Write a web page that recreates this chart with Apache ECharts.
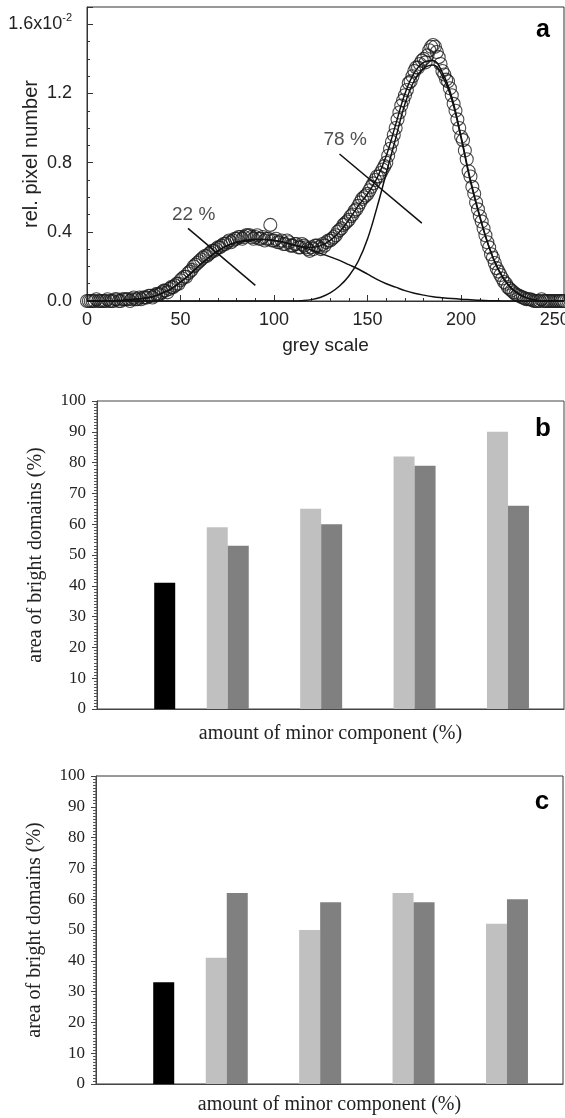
<!DOCTYPE html>
<html lang="en" style="height: 100%">
<head>
  <meta charset="utf-8">
  <title>Grey scale histogram and bright domain areas</title>
</head>
<body style="height: 100%; margin: 0; background: #fff">
  <div id="container" style="width: 565px; height: 1118px"></div>

  <script type="text/javascript" src="https://cdn.jsdelivr.net/npm/echarts@6.0.0/dist/echarts.min.js"></script>

  <script type="text/javascript">
    // ---- panel a: histogram (values in units of 1e-2) ----
    var greyLevels = [
      0, 2, 4, 6, 8, 10, 12, 14, 16, 18, 20, 22, 24, 26, 28, 30,
      32, 34, 36, 38, 40, 42, 44, 46, 48, 50, 52, 54, 56, 58, 60, 62,
      64, 66, 68, 70, 72, 74, 76, 78, 80, 82, 84, 86, 88, 90, 92, 94,
      96, 98, 100, 102, 104, 106, 108, 110, 112, 114, 116, 118, 120, 122, 124, 126,
      128, 130, 132, 134, 136, 138, 140, 142, 144, 146, 148, 150, 152, 154, 156, 158,
      160, 162, 164, 166, 168, 170, 172, 174, 176, 178, 180, 182, 184, 186, 188, 190,
      192, 194, 196, 198, 200, 202, 204, 206, 208, 210, 212, 214, 216, 218, 220, 222,
      224, 226, 228, 230, 232, 234, 236, 238, 240, 242, 244, 246, 248, 250, 252, 254
    ];
    var pixelCounts = [
      0.00, 0.00, 0.00, 0.00, 0.00, 0.00, 0.00, 0.00, 0.01, 0.00, 0.01, 0.01, 0.01, 0.01, 0.02, 0.02,
      0.02, 0.03, 0.03, 0.04, 0.05, 0.06, 0.07, 0.08, 0.10, 0.12, 0.14, 0.16, 0.18, 0.21, 0.23, 0.25,
      0.26, 0.28, 0.29, 0.31, 0.32, 0.33, 0.35, 0.35, 0.36, 0.37, 0.37, 0.38, 0.37, 0.37, 0.36, 0.37,
      0.36, 0.44, 0.35, 0.34, 0.35, 0.33, 0.34, 0.32, 0.33, 0.31, 0.32, 0.30, 0.31, 0.32, 0.31, 0.33,
      0.34, 0.35, 0.37, 0.40, 0.42, 0.45, 0.47, 0.50, 0.53, 0.57, 0.60, 0.62, 0.66, 0.70, 0.72, 0.76,
      0.80, 0.88, 0.96, 1.05, 1.13, 1.19, 1.26, 1.30, 1.35, 1.37, 1.40, 1.42, 1.47, 1.47, 1.41, 1.33,
      1.28, 1.23, 1.14, 1.05, 0.95, 0.87, 0.75, 0.66, 0.57, 0.49, 0.42, 0.34, 0.27, 0.22, 0.17, 0.13,
      0.10, 0.07, 0.05, 0.035, 0.025, 0.015, 0.01, 0.005, 0.00, 0.00, 0.00, 0.00, 0.00, 0.00, 0.00, 0.00
    ];
    var greyLevelsOdd = [
      1, 3, 5, 7, 9, 11, 13, 15, 17, 19, 21, 23, 25, 27, 29, 31,
      33, 35, 37, 39, 41, 43, 45, 47, 49, 51, 53, 55, 57, 59, 61, 63,
      65, 67, 69, 71, 73, 75, 77, 79, 81, 83, 85, 87, 89, 91, 93, 95,
      97, 99, 101, 103, 105, 107, 109, 111, 113, 115, 117, 119, 121, 123, 125, 127,
      129, 131, 133, 135, 137, 139, 141, 143, 145, 147, 149, 151, 153, 155, 157, 159,
      161, 163, 165, 167, 169, 171, 173, 175, 177, 179, 181, 183, 185, 187, 189, 191,
      193, 195, 197, 199, 201, 203, 205, 207, 209, 211, 213, 215, 217, 219, 221, 223,
      225, 227, 229, 231, 233, 235, 237, 239, 241, 243, 245, 247, 249, 251, 253, 255
    ];
    var pixelCountsOdd = [
      0.00, 0.00, 0.01, 0.00, 0.00, 0.01, 0.00, 0.01, 0.00, 0.01, 0.01, 0.00, 0.02, 0.01, 0.01, 0.02,
      0.03, 0.02, 0.04, 0.04, 0.06, 0.05, 0.08, 0.09, 0.10, 0.13, 0.14, 0.17, 0.20, 0.22, 0.24, 0.26,
      0.27, 0.29, 0.30, 0.31, 0.33, 0.34, 0.34, 0.36, 0.37, 0.36, 0.38, 0.38, 0.36, 0.38, 0.36, 0.35,
      0.36, 0.35, 0.36, 0.34, 0.33, 0.35, 0.32, 0.33, 0.31, 0.33, 0.31, 0.29, 0.30, 0.32, 0.30, 0.32,
      0.35, 0.36, 0.38, 0.41, 0.44, 0.46, 0.49, 0.52, 0.55, 0.59, 0.61, 0.64, 0.68, 0.72, 0.74, 0.78,
      0.84, 0.92, 1.00, 1.09, 1.16, 1.22, 1.27, 1.33, 1.35, 1.39, 1.38, 1.45, 1.48, 1.44, 1.37, 1.31,
      1.27, 1.19, 1.10, 1.00, 0.93, 0.82, 0.72, 0.62, 0.53, 0.46, 0.38, 0.31, 0.25, 0.19, 0.15, 0.11,
      0.08, 0.06, 0.04, 0.03, 0.02, 0.01, 0.01, 0.00, 0.00, 0.01, 0.00, 0.00, 0.00, 0.00, 0.00, 0.00
    ];

    // fitted curves
    var fitLevels = [
      0, 5, 10, 15, 20, 25, 30, 35, 40, 45, 50, 55, 60, 65, 70, 75, 80, 85, 90, 95,
      100, 105, 110, 115, 120, 125, 130, 135, 140, 145, 150, 155, 160, 165, 170, 175,
      180, 185, 190, 195, 200, 205, 210, 215, 220, 225, 230, 235, 240, 245, 250, 255
    ];
    var fitTotal = [
      0, 0, 0, 0.002, 0.005, 0.01, 0.015, 0.025, 0.045, 0.07, 0.11, 0.155, 0.205, 0.25, 0.29, 0.32, 0.34, 0.35, 0.355, 0.355,
      0.35, 0.34, 0.325, 0.315, 0.31, 0.32, 0.35, 0.40, 0.47, 0.55, 0.62, 0.71, 0.84, 1.02, 1.20, 1.32,
      1.38, 1.39, 1.32, 1.18, 0.95, 0.70, 0.49, 0.31, 0.18, 0.095, 0.045, 0.018, 0.005, 0, 0, 0
    ];
    var fitMinor = [
      0, 0, 0, 0.002, 0.005, 0.01, 0.015, 0.025, 0.045, 0.07, 0.11, 0.155, 0.205, 0.25, 0.29, 0.32, 0.34, 0.35, 0.355, 0.355,
      0.35, 0.34, 0.325, 0.31, 0.295, 0.275, 0.255, 0.235, 0.21, 0.185, 0.155, 0.125, 0.10, 0.08, 0.06, 0.045,
      0.034, 0.025, 0.019, 0.014, 0.01, 0.007, 0.004, 0.002, 0.001, 0, 0, 0, 0, 0, 0, 0
    ];
    var fitMajor = [
      0, 0, 0, 0, 0, 0, 0, 0, 0, 0, 0, 0, 0, 0, 0, 0, 0, 0, 0, 0,
      0, 0, 0, 0.002, 0.008, 0.022, 0.047, 0.087, 0.145, 0.23, 0.36, 0.54, 0.74, 0.94, 1.14, 1.275,
      1.345, 1.365, 1.30, 1.165, 0.94, 0.69, 0.485, 0.31, 0.18, 0.095, 0.045, 0.018, 0.005, 0, 0, 0
    ];

    // annotations: text, label point, pointer start, pointer end
    var notes = ['22 %', '78 %'];
    var noteAt = [[57, 0.50], [138, 0.935]];
    var pointerFrom = [[54, 0.42], [135, 0.85]];
    var pointerTo = [[90, 0.09], [179, 0.45]];

    // ---- panels b and c: area of bright domains (%) ----
    var groupX = [28, 48, 68, 88];
    var refX = [14.5];
    var refB = [41];
    var lightB = [59, 65, 82, 90];
    var darkB = [53, 60, 79, 66];
    var refC = [33];
    var lightC = [41, 50, 62, 52];
    var darkC = [62, 59, 59, 60];

    var SANS = 'Liberation Sans, Arial, sans-serif';
    var SERIF = 'Liberation Serif, Times New Roman, serif';

    function pairs(xs, ys) {
      return xs.map(function (x, i) { return [x, ys[i]]; });
    }

    function barYAxis(gridIndex) {
      return {
        gridIndex: gridIndex,
        type: 'value',
        min: 0,
        max: 100,
        interval: 10,
        name: 'area of bright domains (%)',
        nameLocation: 'middle',
        nameGap: 51,
        nameMoveOverlap: false,
        nameTextStyle: { fontFamily: SERIF, fontSize: 20, color: '#222' },
        axisLine: { show: true, lineStyle: { color: '#444', width: 1 } },
        axisTick: { show: true, inside: false, length: 5, lineStyle: { color: '#444' } },
        minorTick: { show: true, splitNumber: 10, length: 3, lineStyle: { color: '#555' } },
        axisLabel: { fontFamily: SERIF, fontSize: 17, color: '#222', margin: 11 },
        splitLine: { show: false }
      };
    }

    function barXAxis(gridIndex, nameGap) {
      return {
        gridIndex: gridIndex,
        type: 'value',
        min: 0,
        max: 100,
        name: 'amount of minor component (%)',
        nameLocation: 'middle',
        nameGap: nameGap,
        nameMoveOverlap: false,
        nameTextStyle: { fontFamily: SERIF, fontSize: 20, color: '#222' },
        axisLine: { show: true, lineStyle: { color: '#444', width: 1 } },
        axisTick: { show: false },
        axisLabel: { show: false },
        splitLine: { show: false }
      };
    }

    function hiddenXAxis(gridIndex) {
      return { gridIndex: gridIndex, type: 'value', min: 0, max: 100, show: false };
    }

    function bars(xIdx, yIdx, xs, ys, color) {
      return {
        type: 'bar',
        xAxisIndex: xIdx,
        yAxisIndex: yIdx,
        barWidth: 21,
        barGap: 0,
        itemStyle: { color: color },
        silent: true,
        data: pairs(xs, ys)
      };
    }

    function curve(ys) {
      return {
        type: 'line',
        xAxisIndex: 0,
        yAxisIndex: 0,
        smooth: 0.4,
        showSymbol: false,
        symbol: 'none',
        lineStyle: { color: '#111', width: 1.5 },
        z: 3,
        data: pairs(fitLevels, ys)
      };
    }

    function pointer(i) {
      return {
        type: 'line',
        xAxisIndex: 0,
        yAxisIndex: 0,
        symbol: 'none',
        lineStyle: { color: '#111', width: 1.5 },
        data: [pointerFrom[i], pointerTo[i]]
      };
    }

    var dom = document.getElementById('container');
    var myChart = echarts.init(dom, null, { renderer: 'canvas' });

    var gridBase = { show: true, borderWidth: 1, containLabel: false, outerBoundsMode: 'none' };

    var option = {
      backgroundColor: '#fff',
      animation: false,
      grid: [
        Object.assign({ left: 87, right: 1, top: 7, height: 294, borderColor: '#333' }, gridBase),
        Object.assign({ left: 97, right: 1, top: 401, height: 308, borderColor: '#444' }, gridBase),
        Object.assign({ left: 96, right: 2, top: 776, height: 308, borderColor: '#333' }, gridBase)
      ],
      xAxis: [
        {
          gridIndex: 0,
          type: 'value',
          min: 0,
          max: 255,
          interval: 50,
          name: 'grey scale',
          nameLocation: 'middle',
          nameGap: 35,
          nameMoveOverlap: false,
          nameTextStyle: { fontFamily: SANS, fontSize: 19, color: '#222' },
          axisLine: { lineStyle: { color: '#333', width: 1 } },
          axisTick: { inside: true, length: 6, lineStyle: { color: '#333' } },
          minorTick: { show: true, splitNumber: 5, length: 3, lineStyle: { color: '#333' } },
          axisLabel: { fontFamily: SANS, fontSize: 18, color: '#222', margin: 10, hideOverlap: false },
          splitLine: { show: false }
        },
        barXAxis(1, 15),
        hiddenXAxis(1),
        barXAxis(2, 11),
        hiddenXAxis(2)
      ],
      yAxis: [
        {
          gridIndex: 0,
          type: 'value',
          min: 0,
          max: 1.7,
          interval: 0.4,
          name: 'rel. pixel number',
          nameLocation: 'middle',
          nameGap: 46,
          nameMoveOverlap: false,
          nameTextStyle: { fontFamily: SANS, fontSize: 20, color: '#222' },
          axisLine: { show: true, lineStyle: { color: '#333', width: 1 } },
          axisTick: { show: true, inside: true, length: 6, lineStyle: { color: '#333' } },
          minorTick: { show: true, splitNumber: 4, length: 3, lineStyle: { color: '#333' } },
          axisLabel: {
            fontFamily: SANS,
            fontSize: 18,
            color: '#222',
            margin: 15,
            formatter: function (v) {
              if (Math.abs(v - 1.6) < 1e-6) return '{m|1.6x10}{e|-2}';
              if (v > 1.65) return '';
              return v.toFixed(1);
            },
            rich: {
              m: { fontFamily: SANS, fontSize: 18, color: '#222', lineHeight: 24 },
              e: { fontFamily: SANS, fontSize: 11, color: '#222', verticalAlign: 'top' }
            }
          },
          splitLine: { show: false }
        },
        barYAxis(1),
        barYAxis(2)
      ],
      graphic: [
        { type: 'text', x: 543, y: 30, style: { text: 'a', font: 'bold 25px Liberation Sans', fill: '#000', align: 'center', verticalAlign: 'middle', textAlign: 'center', textVerticalAlign: 'middle' } },
        { type: 'text', x: 543, y: 429, style: { text: 'b', font: 'bold 26px Liberation Sans', fill: '#000', align: 'center', verticalAlign: 'middle', textAlign: 'center', textVerticalAlign: 'middle' } },
        { type: 'text', x: 542, y: 802, style: { text: 'c', font: 'bold 26px Liberation Sans', fill: '#000', align: 'center', verticalAlign: 'middle', textAlign: 'center', textVerticalAlign: 'middle' } }
      ],
      series: [
        {
          type: 'scatter',
          xAxisIndex: 0,
          yAxisIndex: 0,
          symbol: 'circle',
          symbolSize: 13,
          clip: false,
          itemStyle: { color: 'rgba(0,0,0,0)', borderColor: '#1a1a1a', borderWidth: 1.1 },
          z: 2,
          data: pairs(greyLevels, pixelCounts).concat(pairs(greyLevelsOdd, pixelCountsOdd))
        },
        curve(fitTotal),
        curve(fitMinor),
        curve(fitMajor),
        pointer(0),
        pointer(1),
        {
          type: 'scatter',
          xAxisIndex: 0,
          yAxisIndex: 0,
          symbolSize: 0,
          label: {
            show: true,
            position: 'inside',
            formatter: function (p) { return p.name; },
            fontFamily: SANS,
            fontSize: 19,
            color: '#222'
          },
          data: notes.map(function (t, i) { return { name: t, value: noteAt[i] }; })
        },
        bars(1, 1, groupX, lightB, '#c0c0c0'),
        bars(1, 1, groupX, darkB, '#808080'),
        bars(2, 1, refX, refB, '#000'),
        bars(3, 2, groupX, lightC, '#c0c0c0'),
        bars(3, 2, groupX, darkC, '#808080'),
        bars(4, 2, refX, refC, '#000')
      ]
    };

    myChart.setOption(option);

    window.addEventListener('resize', function () {
      myChart.resize();
    });
  </script>
</body>
</html>
